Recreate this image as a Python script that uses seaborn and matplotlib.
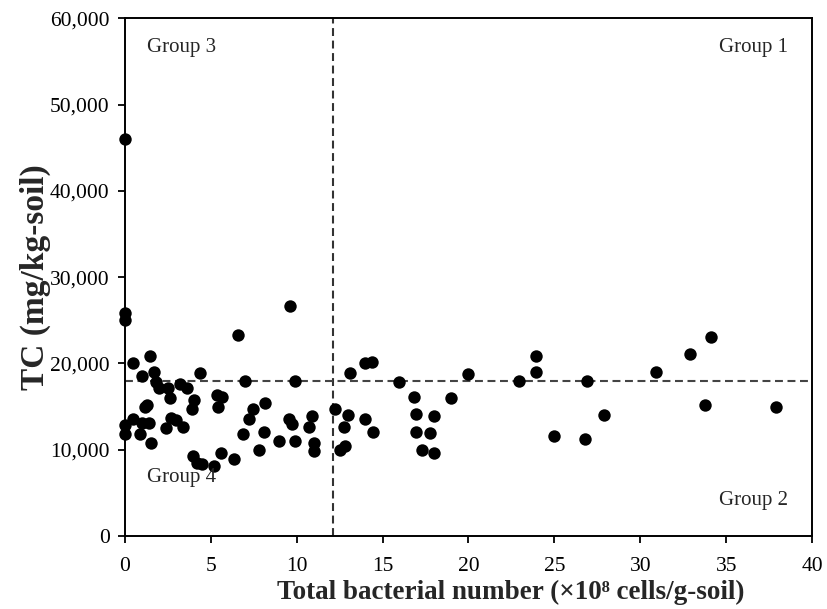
import matplotlib
matplotlib.use("Agg")
import matplotlib.pyplot as plt
import seaborn as sns
import pandas as pd

bacteria = [0.0, 0.0, 0.0, 0.0, 0.0,
            0.5, 0.5, 0.9, 1.0, 1.0, 1.2, 1.3, 1.4, 1.45, 1.5, 1.7, 1.8, 2.0,
            2.4, 2.5, 2.6, 2.7, 3.0, 3.2, 3.4, 3.6, 3.9, 3.95, 4.05, 4.2, 4.35,
            4.5, 5.2, 5.35, 5.4, 5.6, 5.65, 6.35, 6.6, 6.9, 7.0, 7.25, 7.45,
            7.8, 8.1, 8.15, 8.95, 9.55, 9.6, 9.7, 9.9, 9.9, 10.7, 10.9, 11.0,
            11.0, 12.25, 12.5, 12.75, 12.8, 13.0, 13.1, 13.95, 13.95, 14.4,
            14.45, 15.95, 16.8, 16.95, 16.95, 17.3, 17.75, 18.0, 18.0, 19.0,
            19.95, 22.95, 23.9, 23.9, 25.0, 26.8, 26.9, 27.9, 30.9, 32.9, 34.1,
            33.75, 37.9]
tc = [46000, 25800, 25000, 12800, 11800,
      20000, 13600, 11800, 18500, 13100, 14900, 15200, 13100, 20800, 10800,
      19000, 17800, 17100, 12500, 17200, 16000, 13700, 13400, 17600, 12600,
      17100, 14700, 9300, 15800, 8400, 18900, 8300, 8100, 16300, 14900, 9600,
      16100, 8900, 23300, 11800, 17900, 13600, 14700, 10000, 12100, 15400,
      11000, 13500, 26700, 13000, 18000, 11000, 12600, 13900, 10800, 9900,
      14700, 10000, 12600, 10400, 14000, 18900, 20000, 13500, 20200, 12100,
      17800, 16100, 14100, 12100, 10000, 11900, 13900, 9600, 16000, 18800,
      18000, 20800, 19000, 11600, 11200, 18000, 14000, 19000, 21100, 23100,
      15200, 15000]

x_ticks = [0, 5, 10, 15, 20, 25, 30, 35, 40]
y_ticks = [0, 10000, 20000, 30000, 40000, 50000, 60000]
y_tick_labels = ["0", "10,000", "20,000", "30,000", "40,000", "50,000", "60,000"]
x_threshold = 12.1
y_threshold = 18000
group_labels = ["Group 3", "Group 1", "Group 4", "Group 2"]

df = pd.DataFrame({"bacteria": bacteria, "tc": tc})

sns.set_theme(style="white")
plt.rcParams["font.family"] = ["Liberation Serif", "DejaVu Serif"]

fig = plt.figure(figsize=(8.27, 6.09), dpi=100)
ax = fig.add_axes([0.151, 0.120, 0.831, 0.850])

sns.scatterplot(data=df, x="bacteria", y="tc", ax=ax, color="black",
                s=80, edgecolor="black", linewidth=0, zorder=3, clip_on=False)

ax.axvline(x_threshold, color="#333333", linestyle=(0, (3.8, 2.2)), linewidth=1.5, zorder=2)
ax.axhline(y_threshold, color="#444444", linestyle=(0, (3.8, 2.2)), linewidth=1.5, zorder=2)

ax.set_xlim(0, 40)
ax.set_ylim(0, 60000)
ax.set_xticks(x_ticks)
ax.set_xticklabels([str(t) for t in x_ticks])
ax.set_yticks(y_ticks)
ax.set_yticklabels(y_tick_labels)
ax.tick_params(axis="both", direction="out", length=5, width=1.3, labelsize=15.5,
               colors="black", bottom=True, left=True)
ax.tick_params(axis="x", pad=10)
ax.tick_params(axis="y", pad=6)
for sp in ax.spines.values():
    sp.set_color("black")
    sp.set_linewidth(1.4)

ax.set_xlabel("Total bacterial number (×10⁸ cells/g-soil)", fontsize=19.5,
              fontweight="bold")
ax.set_ylabel("TC (mg/kg-soil)", fontsize=24, fontweight="bold")
ax.xaxis.set_label_coords(0.562, -0.085)
ax.yaxis.set_label_coords(-0.108, 0.5)

ax.text(0.032, 0.944, group_labels[0], transform=ax.transAxes, fontsize=15,
        ha="left", va="center")
ax.text(0.965, 0.944, group_labels[1], transform=ax.transAxes, fontsize=15,
        ha="right", va="center")
ax.text(0.032, 0.112, group_labels[2], transform=ax.transAxes, fontsize=15,
        ha="left", va="center")
ax.text(0.965, 0.068, group_labels[3], transform=ax.transAxes, fontsize=15,
        ha="right", va="center")

fig.savefig("out.png", dpi=100)
